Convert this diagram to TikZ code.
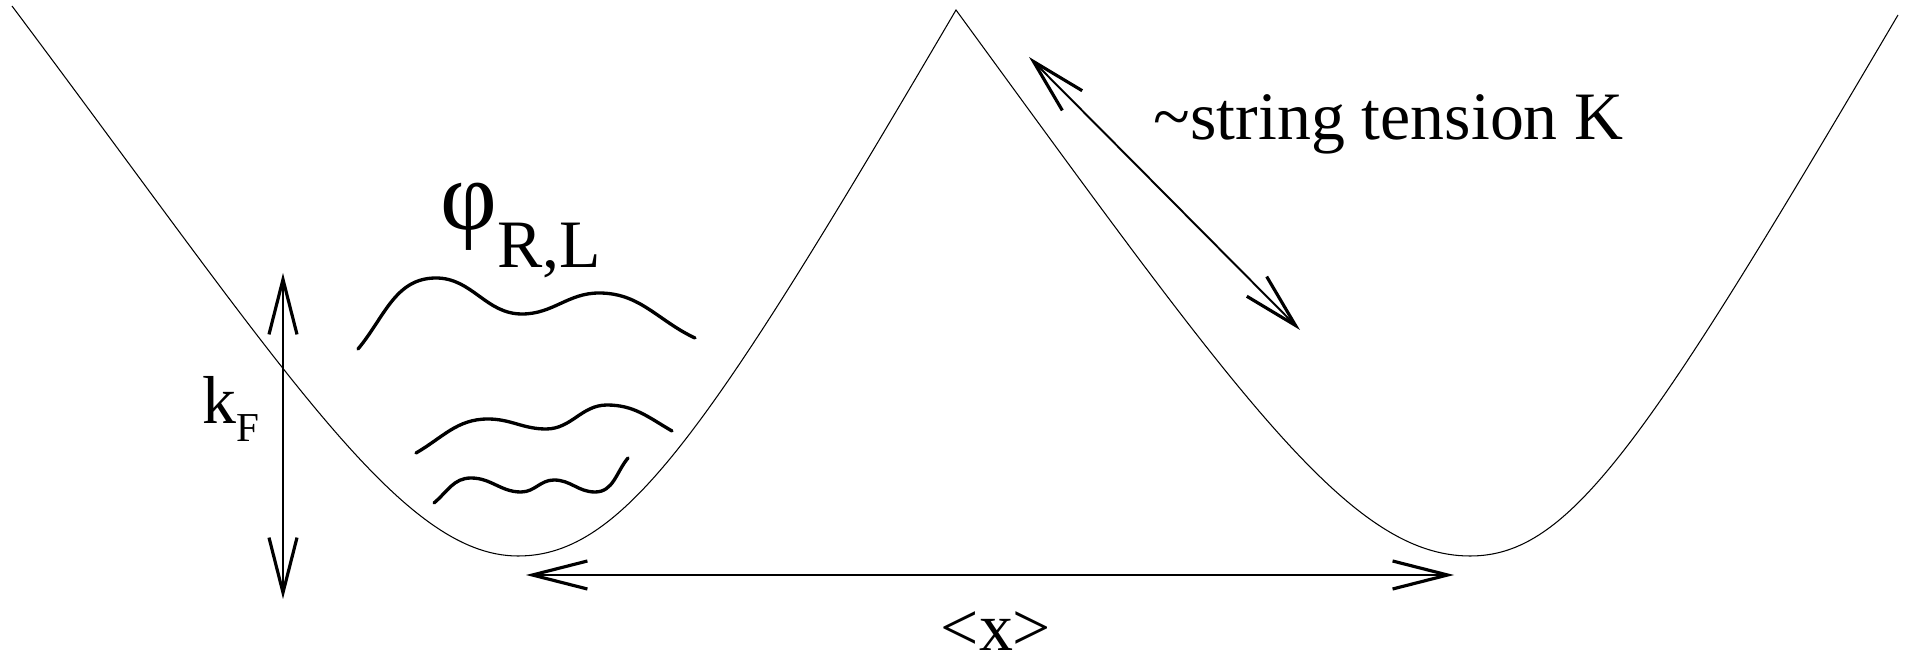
\documentclass[tikz,border=0pt]{standalone}
\usepackage{fontspec}
\setmainfont{Liberation Serif}
\usetikzlibrary{arrows.meta}
\begin{document}
\begin{tikzpicture}[every node/.style={inner sep=0pt, font=\fontsize{19.3}{22}\selectfont},
  >={Straight Barb[length=5.5mm,width=2.8mm,line width=0.9pt]},
  pot/.style={line width=0.3pt},
  wave/.style={line width=0.95pt, line cap=round},
  dim/.style={<->, line width=0.55pt}]
\useasboundingbox (0,0) rectangle (19.05,6.61);
\coordinate (wl) at (5.18,1.05);
\coordinate (top) at (9.56,6.51);
\coordinate (wr) at (14.70,1.05);
\draw[pot] (0.12,6.55) .. controls (2.83,2.93) and (4.0,1.05) .. (wl)
  .. controls (6.25,1.05) and (7.1,2.32) .. (top)
  .. controls (12.4,2.62) and (13.5,1.05) .. (wr)
  .. controls (15.7,1.05) and (16.45,2.16) .. (18.98,6.46);
\draw[wave] (3.58,3.12) to[out=50,in=180] (4.36,3.83) to[out=0,in=180] (5.22,3.47)
  to[out=0,in=180] (5.99,3.68) to[out=0,in=155] (6.95,3.23);
\draw[wave] (4.16,2.08) to[out=30,in=180] (4.88,2.42) to[out=0,in=180] (5.46,2.32)
  to[out=0,in=180] (6.07,2.56) to[out=0,in=150] (6.72,2.30);
\draw[wave] (4.34,1.58) to[out=40,in=180] (4.71,1.83) to[out=0,in=180] (5.21,1.69)
  to[out=0,in=180] (5.54,1.81) to[out=0,in=180] (5.95,1.69) to[out=0,in=230] (6.28,2.03);
\coordinate (kf1) at (2.83,0.62);
\coordinate (kf2) at (2.83,3.88);
\coordinate (st1) at (10.29,6.04);
\coordinate (st2) at (13.00,3.31);
\coordinate (x1) at (5.26,0.86);
\coordinate (x2) at (14.54,0.86);
\draw[dim] (kf1) -- (kf2);
\draw[dim] (st1) -- (st2);
\draw[dim] (x1) -- (x2);
\node[anchor=base west] (kf) at (2.02,2.37) {k\raisebox{-0.18cm}{\fontsize{11.7}{13}\selectfont F}};
\node[anchor=base west] (phi) at (4.40,4.31) {{\fontsize{28}{30}\selectfont φ}\raisebox{-0.38cm}{R,L}};
\node[anchor=base west] (tension) at (11.53,5.21) {\textasciitilde string tension K};
\node[anchor=base] (avg) at (9.96,0.11) {<x>};
\end{tikzpicture}
\end{document}
